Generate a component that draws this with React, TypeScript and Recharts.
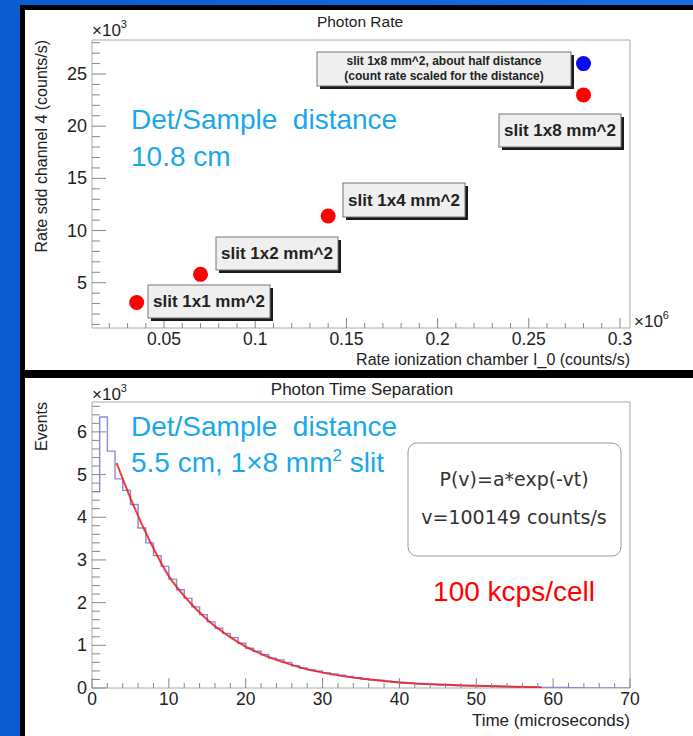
import { ComposedChart, Scatter, Line, XAxis, YAxis, ReferenceArea } from 'recharts';

// ---- top panel: photon rate vs ionization chamber rate ----
const slitLabels = ['slit 1x1 mm^2', 'slit 1x2 mm^2', 'slit 1x4 mm^2', 'slit 1x8 mm^2'];
const ionRate = [0.035, 0.07, 0.14, 0.28]; // x10^6 counts/s
const sddRate = [3.1, 5.8, 11.4, 23.0]; // x10^3 counts/s
const halfDistIonRate = [0.28];
const halfDistSddRate = [26.0];

const rateTicks = [0.05, 0.1, 0.15, 0.2, 0.25, 0.3];
const sddTicks = [5, 10, 15, 20, 25];
const rateDomain: [number, number] = [0.0105, 0.3055];
const sddDomain: [number, number] = [0.66, 28.26];

// ---- bottom panel: time separation histogram (1 us bins), x10^3 events ----
const eventsPerBin = [
  4.6, 6.35, 5.55, 4.9, 4.63, 4.3, 3.75, 3.4, 3.1, 2.85,
  2.55, 2.3, 2.1, 1.9, 1.72, 1.55, 1.4, 1.28, 1.18, 1.05,
  0.93, 0.86, 0.78, 0.7, 0.66, 0.6, 0.52, 0.47, 0.43, 0.4,
  0.36, 0.33, 0.3, 0.27, 0.24, 0.21, 0.19, 0.18, 0.16, 0.14,
  0.13, 0.12, 0.1, 0.09, 0.085, 0.075, 0.07, 0.06, 0.055, 0.05,
  0.045, 0.04, 0.035, 0.03, 0.03, 0.025, 0.02, 0.02, 0.015, 0.01,
  0.01, 0.01, 0.005, 0.005, 0.004, 0.003, 0.002, 0.002, 0.001, 0.001,
];
const fitTime = [3.2, 5, 7.5, 10, 12.5, 15, 17.5, 20, 22.5, 25, 27.5, 30, 35, 40, 45, 50, 55, 58.5];
const fitEvents = [5.27, 4.45, 3.45, 2.62, 2.05, 1.6, 1.25, 0.97, 0.76, 0.6, 0.46, 0.36, 0.22, 0.13, 0.08, 0.05, 0.03, 0.02];

const timeTicks = [0, 10, 20, 30, 40, 50, 60, 70];
const eventTicks = [0, 1, 2, 3, 4, 5, 6];
const timeDomain: [number, number] = [0, 70];
const eventDomain: [number, number] = [0, 6.7];

const ROOT_FONT = '"Liberation Sans", Arial, Helvetica, sans-serif';
const INK = '#222';
const TICK = '#888';
const FRAME = '#aaa';
const CYAN = '#19a8ea';

const slitPoints = ionRate.map((x, i) => ({ x, y: sddRate[i], label: slitLabels[i] }));
const halfDistPoints = halfDistIonRate.map((x, i) => ({ x, y: halfDistSddRate[i] }));
const histData = [
  ...eventsPerBin.map((n, i) => ({ t: i, n })),
  { t: eventsPerBin.length, n: eventsPerBin[eventsPerBin.length - 1] },
];
const fitData = fitTime.map((t, i) => ({ t, f: fitEvents[i] }));

function withMinors(lo: number, hi: number, step: number, majors: number[]) {
  const out = [...majors];
  for (let v = lo; v <= hi + 1e-9; v += step) {
    const r = Math.round(v * 1e6) / 1e6;
    if (!out.some((m) => Math.abs(m - r) < 1e-9)) out.push(r);
  }
  return out.sort((a, b) => a - b);
}

const isMajor = (v: number, majors: number[]) => majors.some((m) => Math.abs(m - v) < 1e-9);

const leftTick = (majors: number[]) => (p: any) => {
  const v = p.payload.value;
  const major = isMajor(v, majors);
  return (
    <g>
      <line x1={p.x} x2={p.x + (major ? 14 : 8)} y1={p.y} y2={p.y} stroke={TICK} />
      {major && (
        <text x={p.x - 5} y={p.y + 6} textAnchor="end" fontSize={18} fill={INK} fontFamily={ROOT_FONT}>
          {v}
        </text>
      )}
    </g>
  );
};

const bottomTick = (majors: number[]) => (p: any) => {
  const v = p.payload.value;
  const major = isMajor(v, majors);
  return (
    <g>
      <line x1={p.x} x2={p.x} y1={p.y} y2={p.y - (major ? 10 : 5)} stroke={TICK} />
      {major && (
        <text x={p.x} y={p.y + 17} textAnchor="middle" fontSize={17.5} fill={INK} fontFamily={ROOT_FONT}>
          {v}
        </text>
      )}
    </g>
  );
};

const Dot = (p: any) => <circle cx={p.cx} cy={p.cy} r={7.5} fill={p.fill} />;

function PaveBox({ x, y, w, h, lines, size, baselines }: any) {
  return (
    <g>
      <rect x={x + 3} y={y + 3} width={w} height={h} fill="#1a1a1a" />
      <rect x={x} y={y} width={w} height={h} fill="#efefef" stroke="#777" />
      {lines.map((t: string, i: number) => (
        <text key={t} x={x + w / 2} y={baselines[i]} textAnchor="middle" fontSize={size} fontWeight="bold" fill={INK} fontFamily={ROOT_FONT}>
          {t}
        </text>
      ))}
    </g>
  );
}

export default function App() {
  const topX = withMinors(0.02, 0.3, 0.01, rateTicks);
  const topY = withMinors(1, 28, 1, sddTicks);
  const botX = withMinors(0, 70, 2, timeTicks);
  const botY = withMinors(0, 6.6, 0.2, eventTicks);

  return (
    <div style={{ position: 'absolute', left: 0, top: 0, width: 693, height: 736, overflow: 'hidden', background: 'linear-gradient(to right, #0b5cd0, #1670e2)' }}>
      {/* panels */}
      <div style={{ position: 'absolute', left: 20, top: 5, width: 673, height: 373, background: '#000' }} />
      <div style={{ position: 'absolute', left: 20, top: 378, width: 673, height: 358, background: '#000' }} />
      <div style={{ position: 'absolute', left: 25, top: 10, width: 668, height: 360, background: '#fff' }} />
      <div style={{ position: 'absolute', left: 25, top: 378, width: 668, height: 358, background: '#fff' }} />

      <div style={{ position: 'absolute', left: 0, top: 0 }}>
        <ComposedChart width={693} height={368} margin={{ top: 40, right: 63, bottom: 10, left: 52 }}>
          <XAxis dataKey="x" type="number" domain={rateDomain} ticks={topX} interval={0} tick={bottomTick(rateTicks)} tickLine={false} axisLine={false} tickSize={0} tickMargin={0} height={30} allowDataOverflow />
          <YAxis dataKey="y" type="number" domain={sddDomain} ticks={topY} interval={0} tick={leftTick(sddTicks)} tickLine={false} axisLine={false} tickSize={0} tickMargin={0} width={40} allowDataOverflow />
          <ReferenceArea x1={rateDomain[0]} x2={rateDomain[1]} y1={sddDomain[0]} y2={sddDomain[1]} fill="none" stroke={FRAME} strokeOpacity={1} fillOpacity={0} />
          <Scatter data={slitPoints} fill="#ff0000" shape={Dot} isAnimationActive={false} />
          <Scatter data={halfDistPoints} fill="#0a0aee" shape={Dot} isAnimationActive={false} />
        </ComposedChart>
      </div>

      <div style={{ position: 'absolute', left: 0, top: 370 }}>
        <ComposedChart width={693} height={366} margin={{ top: 32, right: 63, bottom: 18, left: 52 }}>
          <XAxis dataKey="t" type="number" domain={timeDomain} ticks={botX} interval={0} tick={bottomTick(timeTicks)} tickLine={false} axisLine={false} tickSize={0} tickMargin={0} height={30} allowDataOverflow />
          <YAxis type="number" domain={eventDomain} ticks={botY} interval={0} tick={leftTick(eventTicks)} tickLine={false} axisLine={false} tickSize={0} tickMargin={0} width={40} allowDataOverflow />
          <ReferenceArea x1={timeDomain[0]} x2={timeDomain[1]} y1={eventDomain[0]} y2={eventDomain[1]} fill="none" stroke={FRAME} strokeOpacity={1} fillOpacity={0} />
          <Line data={histData} dataKey="n" type="stepAfter" stroke="#8a8ad8" strokeWidth={1.4} dot={false} isAnimationActive={false} />
          <Line data={fitData} dataKey="f" type="monotone" stroke="#ee1c1c" strokeOpacity={0.85} strokeWidth={2} dot={false} isAnimationActive={false} />
        </ComposedChart>
      </div>

      <svg width={693} height={736} style={{ position: 'absolute', left: 0, top: 0, pointerEvents: 'none' }}>
        {/* top panel texts */}
        <text x={360} y={27} textAnchor="middle" fontSize={15.5} fill={INK} fontFamily={ROOT_FONT}>Photon Rate</text>
        <text x={92} y={36} fontSize={17} fill={INK} fontFamily={ROOT_FONT}>×10<tspan fontSize={11} dy={-8}>3</tspan></text>
        <text transform="translate(47,40) rotate(-90)" textAnchor="end" fontSize={16} fill={INK} fontFamily={ROOT_FONT}>Rate sdd channel 4 (counts/s)</text>
        <text x={630} y={365} textAnchor="end" fontSize={16} fill={INK} fontFamily={ROOT_FONT}>Rate ionization chamber I_0 (counts/s)</text>
        <text x={634} y={327} fontSize={17} fill={INK} fontFamily={ROOT_FONT}>×10<tspan fontSize={11} dy={-8}>6</tspan></text>
        <text x={131} y={129} fontSize={28} fill={CYAN} fontFamily={ROOT_FONT} style={{ whiteSpace: 'pre' }}>Det/Sample  distance</text>
        <text x={131} y={166} fontSize={28} fill={CYAN} fontFamily={ROOT_FONT}>10.8 cm</text>

        <PaveBox x={317} y={52} w={254} h={34} lines={['slit 1x8 mm^2, about half distance', '(count rate scaled for the distance)']} size={12} baselines={[64.5, 80]} />
        <PaveBox x={499} y={114} w={122} h={33} lines={[slitLabels[3]]} size={17} baselines={[136]} />
        <PaveBox x={343} y={183} w={122} h={34} lines={[slitLabels[2]]} size={17} baselines={[206]} />
        <PaveBox x={216} y={237} w={122} h={33} lines={[slitLabels[1]]} size={17} baselines={[259]} />
        <PaveBox x={148} y={285} w={122} h={33} lines={[slitLabels[0]]} size={17} baselines={[307]} />

        {/* bottom panel texts */}
        <text x={362} y={395} textAnchor="middle" fontSize={17} fill={INK} fontFamily={ROOT_FONT}>Photon Time Separation</text>
        <text x={92} y={400} fontSize={17} fill={INK} fontFamily={ROOT_FONT}>×10<tspan fontSize={11} dy={-8}>3</tspan></text>
        <text transform="translate(47,402) rotate(-90)" textAnchor="end" fontSize={16} fill={INK} fontFamily={ROOT_FONT}>Events</text>
        <text x={630} y={726} textAnchor="end" fontSize={17} fill={INK} fontFamily={ROOT_FONT}>Time (microseconds)</text>
        <text x={131} y={436} fontSize={28} fill={CYAN} fontFamily={ROOT_FONT} style={{ whiteSpace: 'pre' }}>Det/Sample  distance</text>
        <text x={131} y={472} fontSize={28} fill={CYAN} fontFamily={ROOT_FONT}>
          5.5 cm, 1×8 mm<tspan fontSize={17} dy={-11}>2</tspan><tspan dy={11}> slit</tspan>
        </text>

        <rect x={408} y={443} width={213} height={113} rx={9} fill="#fff" stroke="#999" />
        <text x={514} y={486} textAnchor="middle" fontSize={19} fill="#333" fontFamily='"DejaVu Sans", sans-serif'>P(v)=a*exp(-vt)</text>
        <text x={514} y={524} textAnchor="middle" fontSize={19} fill="#333" fontFamily='"DejaVu Sans", sans-serif'>v=100149 counts/s</text>
        <text x={514} y={601} textAnchor="middle" fontSize={28} fill="#ff0000" fontFamily={ROOT_FONT}>100 kcps/cell</text>
      </svg>
    </div>
  );
}
